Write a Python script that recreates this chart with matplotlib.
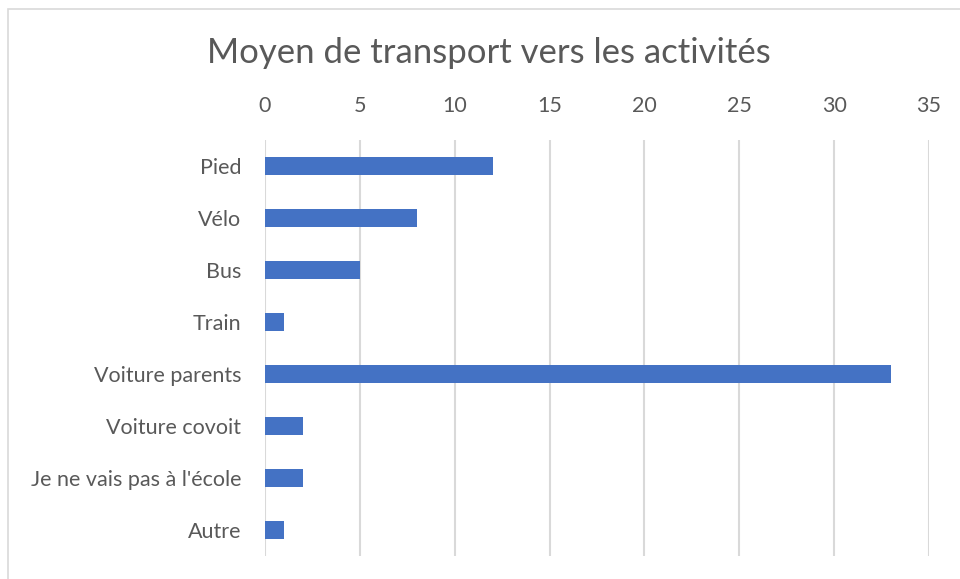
import matplotlib.pyplot as plt
from matplotlib.patches import Rectangle

categories = ["Pied", "Vélo", "Bus", "Train", "Voiture parents",
              "Voiture covoit", "Je ne vais pas à l'école", "Autre"]
values = [12, 8, 5, 1, 33, 2, 2, 1]
x_ticks = [0, 5, 10, 15, 20, 25, 30, 35]

plt.rcParams['font.family'] = ['Lato', 'DejaVu Sans']
text_color = '#595959'
grid_color = '#d9d9d9'

fig = plt.figure(figsize=(9.6, 5.79), dpi=100)
ax = fig.add_axes([265 / 960, 1 - 556 / 579, (929 - 265) / 960, (556 - 140) / 579])

ax.barh(range(len(categories)), values, height=0.36, color='#4472C4', zorder=3)
ax.set_ylim(len(categories) - 0.5, -0.5)
ax.set_xlim(0, 35)
ax.set_yticks(range(len(categories)))
ax.set_yticklabels(categories)
ax.set_xticks(x_ticks)

ax.xaxis.tick_top()
ax.tick_params(axis='both', length=0, labelsize=15.5, labelcolor=text_color)
ax.tick_params(axis='x', pad=17)
ax.tick_params(axis='y', pad=17)

ax.grid(axis='x', color=grid_color, linewidth=1.5, zorder=0)
for s in ax.spines.values():
    s.set_visible(False)

fig.text(489 / 960, 1 - 53 / 579, "Moyen de transport vers les activités",
         ha='center', va='center', fontsize=25, color=text_color)

# chart border
fig.patches.append(Rectangle((8 / 960, -0.1), 1.2, 1 - 9 / 579 + 0.1,
                             transform=fig.transFigure, fill=False,
                             edgecolor=grid_color, linewidth=1.2))

fig.savefig('out.png', dpi=100)
